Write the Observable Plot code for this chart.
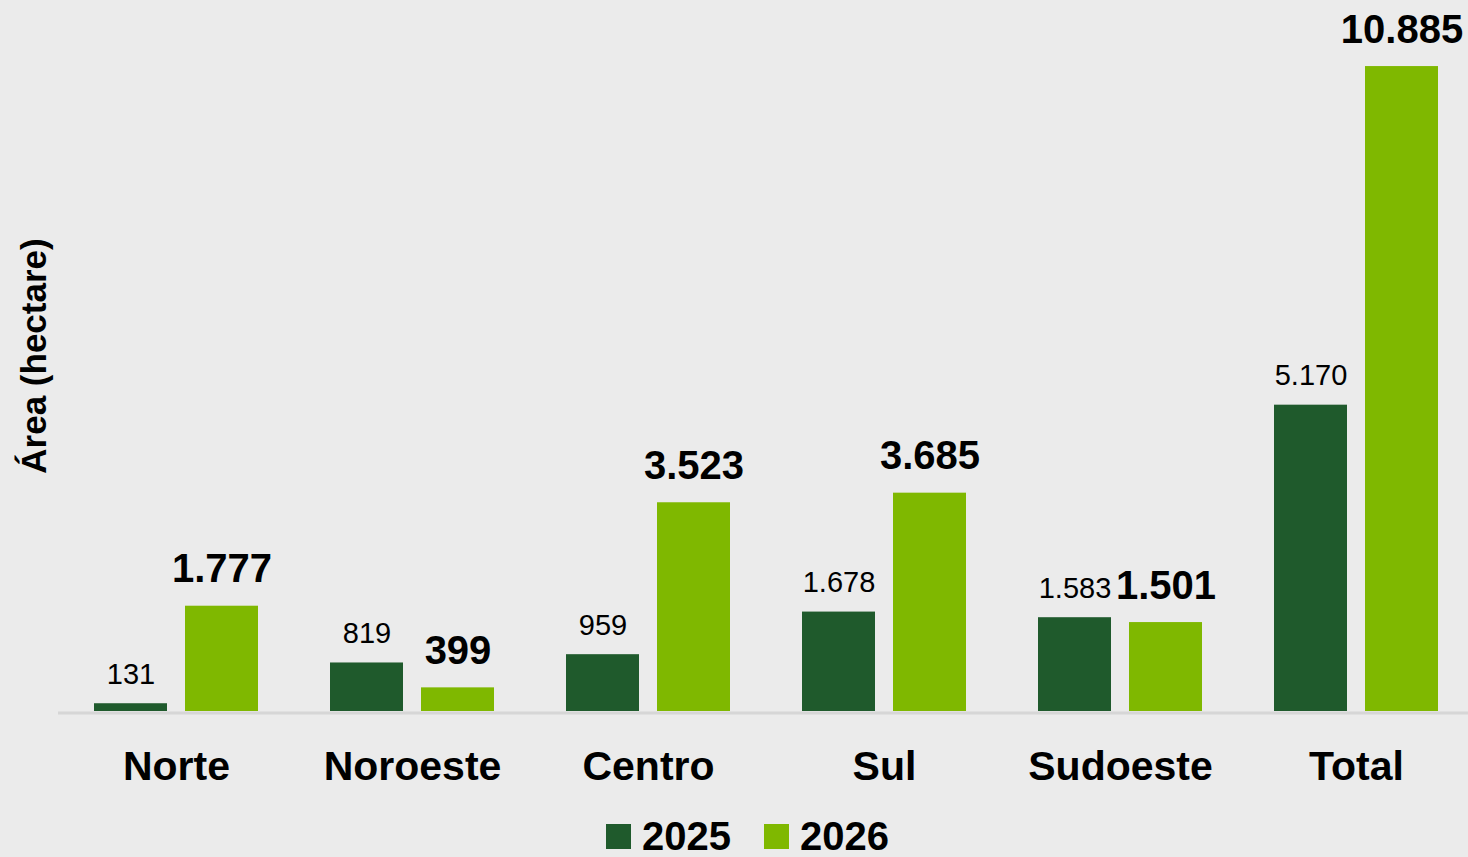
<!DOCTYPE html>
<html>
<head>
<meta charset="utf-8">
<script src="https://cdn.jsdelivr.net/npm/d3@7"></script>
<script src="https://cdn.jsdelivr.net/npm/@observablehq/plot@0.6"></script>
<style>
  html, body { margin: 0; padding: 0; background: #ebebeb; overflow: hidden; }
  body { width: 1468px; height: 857px; font-family: "Liberation Sans", Arial, sans-serif; }
  #legendwrap { display: flex; justify-content: flex-start; padding-left: 606px; padding-top: 0px; height: 42px; }
  .lg-swatches { line-height: 1 !important; min-height: 0 !important; margin: 0 !important; }
  .lg-swatch { margin-right: 33px !important; line-height: 1 !important; }
  .lg-swatch > svg { margin-right: 11px !important; }
</style>
</head>
<body>
<div id="chart"></div>
<div id="legendwrap"></div>
<script>
const regions = ["Norte", "Noroeste", "Centro", "Sul", "Sudoeste", "Total"];
const years = ["2025", "2026"];
const values2025 = [131, 819, 959, 1678, 1583, 5170];
const values2026 = [1777, 399, 3523, 3685, 1501, 10885];
const colors = ["#1f5a2c", "#7fb800"];
const yLabel = "Área (hectare)";

const data = [];
regions.forEach((r, i) => {
  data.push({region: r, year: "2025", value: values2025[i]});
  data.push({region: r, year: "2026", value: values2026[i]});
});

const locale = d3.formatLocale({decimal: ",", thousands: ".", grouping: [3], currency: ["", ""]});
const fmt = locale.format(",d");

const font = "'Liberation Sans', Arial, sans-serif";

const chart = Plot.plot({
  width: 1468,
  height: 815,
  marginTop: 0,
  marginBottom: 104,
  marginLeft: 64,
  marginRight: 0,
  style: {background: "transparent", fontFamily: font, color: "#000"},
  fx: {domain: regions, paddingInner: 0.305, paddingOuter: 0.127, label: null, axis: null},
  x: {domain: years, paddingInner: 0.2, paddingOuter: 0, axis: null},
  y: {domain: [0, 12000], axis: null},
  color: {domain: years, range: colors},
  marks: [
    Plot.axisFx({anchor: "bottom", tickSize: 0, tickPadding: 39, fontSize: 41, fontWeight: "bold", label: null, fill: "#000"}),
    Plot.axisY({anchor: "left", ticks: [], tickSize: 0, label: yLabel, labelAnchor: "center", labelArrow: "none", labelOffset: 73, fontSize: 35, fontWeight: "bold"}),
    Plot.ruleY([0], {stroke: "#d6d6d6", strokeWidth: 3, insetLeft: -36, insetRight: -36, dy: 1.5}),
    Plot.barY(data, {fx: "region", x: "year", y: "value", fill: "year"}),
    Plot.text(data.filter(d => d.year === "2025"), {fx: "region", x: "year", y: "value", text: d => fmt(d.value), lineAnchor: "bottom", dy: -20, fontSize: 29, fill: "#000"}),
    Plot.text(data.filter(d => d.year === "2026"), {fx: "region", x: "year", y: "value", text: d => fmt(d.value), lineAnchor: "bottom", dy: -24, fontSize: 40, fontWeight: "bold", fill: "#000"})
  ]
});
document.getElementById("chart").appendChild(chart);

const legend = Plot.legend({
  color: {type: "ordinal", domain: years, range: colors},
  swatchSize: 25,
  className: "lg",
  style: {fontSize: "40px", fontWeight: "bold", fontFamily: font, color: "#000", background: "transparent"}
});
document.getElementById("legendwrap").appendChild(legend);
</script>
</body>
</html>
